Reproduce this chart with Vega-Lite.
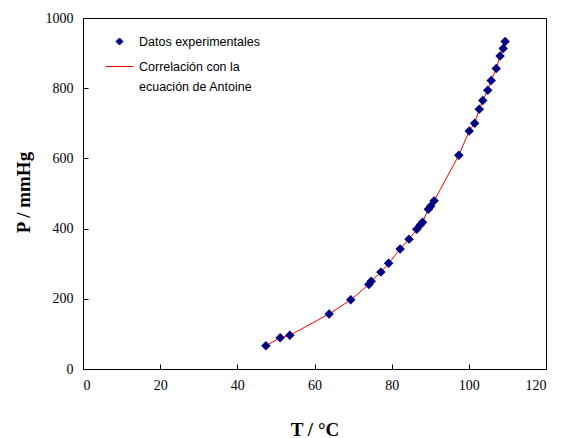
{
  "$schema": "https://vega.github.io/schema/vega-lite/v6.json",
  "width": 463,
  "height": 351,
  "autosize": "none",
  "padding": {"left": 83, "top": 18, "right": 19, "bottom": 69},
  "background": "white",
  "config": {
    "view": {"stroke": "black", "strokeWidth": 1},
    "axis": {
      "grid": false,
      "domainColor": "black",
      "domainWidth": 1,
      "tickColor": "black",
      "tickWidth": 1,
      "tickSize": -5,
      "labelFont": "Liberation Serif",
      "labelFontSize": 14,
      "labelColor": "black",
      "titleFont": "Liberation Serif",
      "titleFontSize": 19,
      "titleFontWeight": "bold",
      "titleColor": "black",
      "format": "d"
    }
  },
  "data": {
    "values": [
      {"T": 47.4, "P": 66},
      {"T": 51.1, "P": 89},
      {"T": 53.6, "P": 96},
      {"T": 63.8, "P": 157},
      {"T": 69.4, "P": 197},
      {"T": 74.1, "P": 241},
      {"T": 74.7, "P": 250},
      {"T": 77.2, "P": 276},
      {"T": 79.2, "P": 301},
      {"T": 82.2, "P": 342},
      {"T": 84.5, "P": 370},
      {"T": 86.5, "P": 398},
      {"T": 87.4, "P": 410},
      {"T": 88.0, "P": 418},
      {"T": 89.5, "P": 455},
      {"T": 90.1, "P": 464},
      {"T": 91.0, "P": 479},
      {"T": 97.4, "P": 609},
      {"T": 100.1, "P": 678},
      {"T": 101.5, "P": 700},
      {"T": 102.7, "P": 740},
      {"T": 103.6, "P": 765},
      {"T": 104.9, "P": 794},
      {"T": 105.8, "P": 822},
      {"T": 107.1, "P": 856},
      {"T": 108.1, "P": 892},
      {"T": 108.9, "P": 913},
      {"T": 109.4, "P": 933}
    ]
  },
  "encoding": {
    "x": {
      "field": "T",
      "type": "quantitative",
      "scale": {"domain": [0, 120], "nice": false, "zero": false},
      "axis": {
        "title": "T / °C",
        "values": [0, 20, 40, 60, 80, 100, 120],
        "format": "d",
        "labelPadding": 14,
        "titleBaseline": "alphabetic",
        "titleY": 66
      }
    },
    "y": {
      "field": "P",
      "type": "quantitative",
      "scale": {"domain": [0, 1000], "nice": false, "zero": false},
      "axis": {
        "title": "P / mmHg",
        "values": [0, 200, 400, 600, 800, 1000],
        "format": "d",
        "labelPadding": 15,
        "titleBaseline": "alphabetic",
        "titleX": -54,
        "titleY": 174
      }
    }
  },
  "layer": [
    {
      "mark": {"type": "line", "strokeWidth": 1},
      "encoding": {
        "color": {
          "datum": "Correlación con la ecuación de Antoine",
          "type": "nominal",
          "scale": {
            "domain": ["Datos experimentales", "Correlación con la ecuación de Antoine"],
            "range": ["#000080", "#ff0000"]
          },
          "legend": {
            "title": null,
            "orient": "none",
            "legendX": 22,
            "legendY": 9,
            "padding": 0,
            "labelFont": "Liberation Sans",
            "labelFontSize": 12.5,
            "labelColor": "black",
            "labelOffset": 5,
            "labelLimit": 300,
            "rowPadding": 4,
            "labelExpr": "datum.label == 'Datos experimentales' ? datum.label : ['Correlación con la', 'ecuación de Antoine']",
            "encode": {
              "labels": {
                "update": {
                  "lineHeight": {"value": 20}
                }
              },
              "symbols": {
                "update": {
                  "shape": {"signal": "datum.value == 'Datos experimentales' ? 'diamond' : 'stroke'"},
                  "size": {"signal": "datum.value == 'Datos experimentales' ? 49 : 784"},
                  "fill": {"signal": "datum.value == 'Datos experimentales' ? '#000080' : 'transparent'"},
                  "stroke": {"signal": "datum.value == 'Datos experimentales' ? 'transparent' : '#ff0000'"},
                  "strokeWidth": {"value": 1},
                  "opacity": {"value": 1}
                }
              }
            }
          }
        }
      }
    },
    {
      "mark": {"type": "point", "shape": "diamond", "filled": true, "size": 90, "opacity": 1},
      "encoding": {
        "color": {"datum": "Datos experimentales", "type": "nominal"}
      }
    }
  ]
}
